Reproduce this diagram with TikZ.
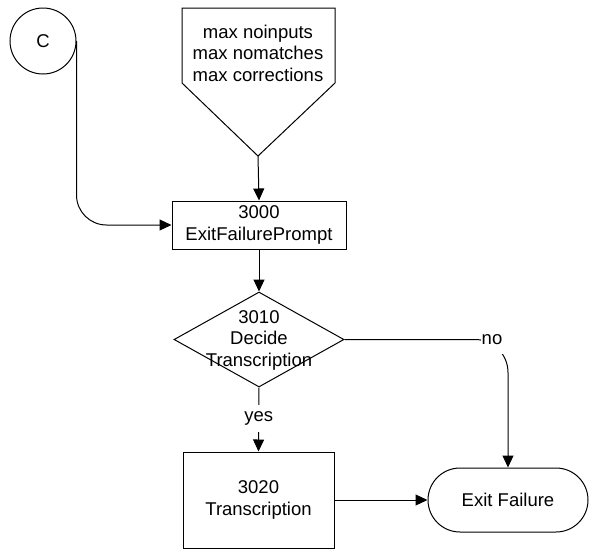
\documentclass[tikz,border=0pt]{standalone}
\usepackage{fontspec}
\setmainfont{Liberation Sans}
\usetikzlibrary{shapes.geometric,arrows.meta}
\begin{document}
\begin{tikzpicture}[x=1pt,y=-1pt,
  every node/.style={font=\fontsize{18.5}{21.5}\selectfont, align=center},
  line/.style={line width=1pt, draw=black},
  arr/.style={line, -{Triangle[length=12pt,width=11pt]}},
  boxnode/.style={draw, line width=1pt, rectangle, inner sep=0pt},
  lbl/.style={fill=white, inner sep=0pt}]
\useasboundingbox (0,0) rectangle (589,550);
% connector circle
\node[draw, line width=1pt, circle, minimum size=66pt, inner sep=0pt] (c) at (43,41) {C};
% off-page pentagon
\draw[line] (182,8) -- (335,8) -- (335,83) -- (258,156) -- (182,83) -- cycle;
\coordinate (ptip) at (258,156);
\node (ptext) at (258,53) {max noinputs\\max nomatches\\max corrections};
% process 3000
\node[boxnode, minimum width=174pt, minimum height=48pt] (b3000) at (259,225) {3000\\ExitFailurePrompt};
% decision 3010
\node[draw, line width=1pt, diamond, minimum width=170pt, minimum height=95pt, inner sep=0pt] (d) at (259,339.5) {};
\node (dtext) at (259,340) {3010\\Decide\\Transcription};
% process 3020
\node[boxnode, minimum width=151pt, minimum height=96pt] (b3020) at (258.5,500) {3020\\Transcription};
% terminal
\node[draw, line width=1pt, rounded corners=32pt, minimum width=160pt, minimum height=64pt, inner sep=0pt] (ef) at (508,500) {Exit Failure};
% connectors
\draw[arr] (ptip) -- (b3000.north);
\draw[arr] (b3000.south) -- (d.north);
\draw[arr, rounded corners=30pt] (c.east) |- (b3000.west);
\draw[arr] (d.south) -- node[lbl, minimum height=27pt, pos=0.49] (yes) {yes} (b3020.north);
\draw[arr, rounded corners=33pt] (d.east) -| (ef.north);
\node[lbl, minimum width=23pt, minimum height=28pt] (no) at (492,340) {no};
\draw[arr] (b3020.east) -- (ef.west);
\end{tikzpicture}
\end{document}
